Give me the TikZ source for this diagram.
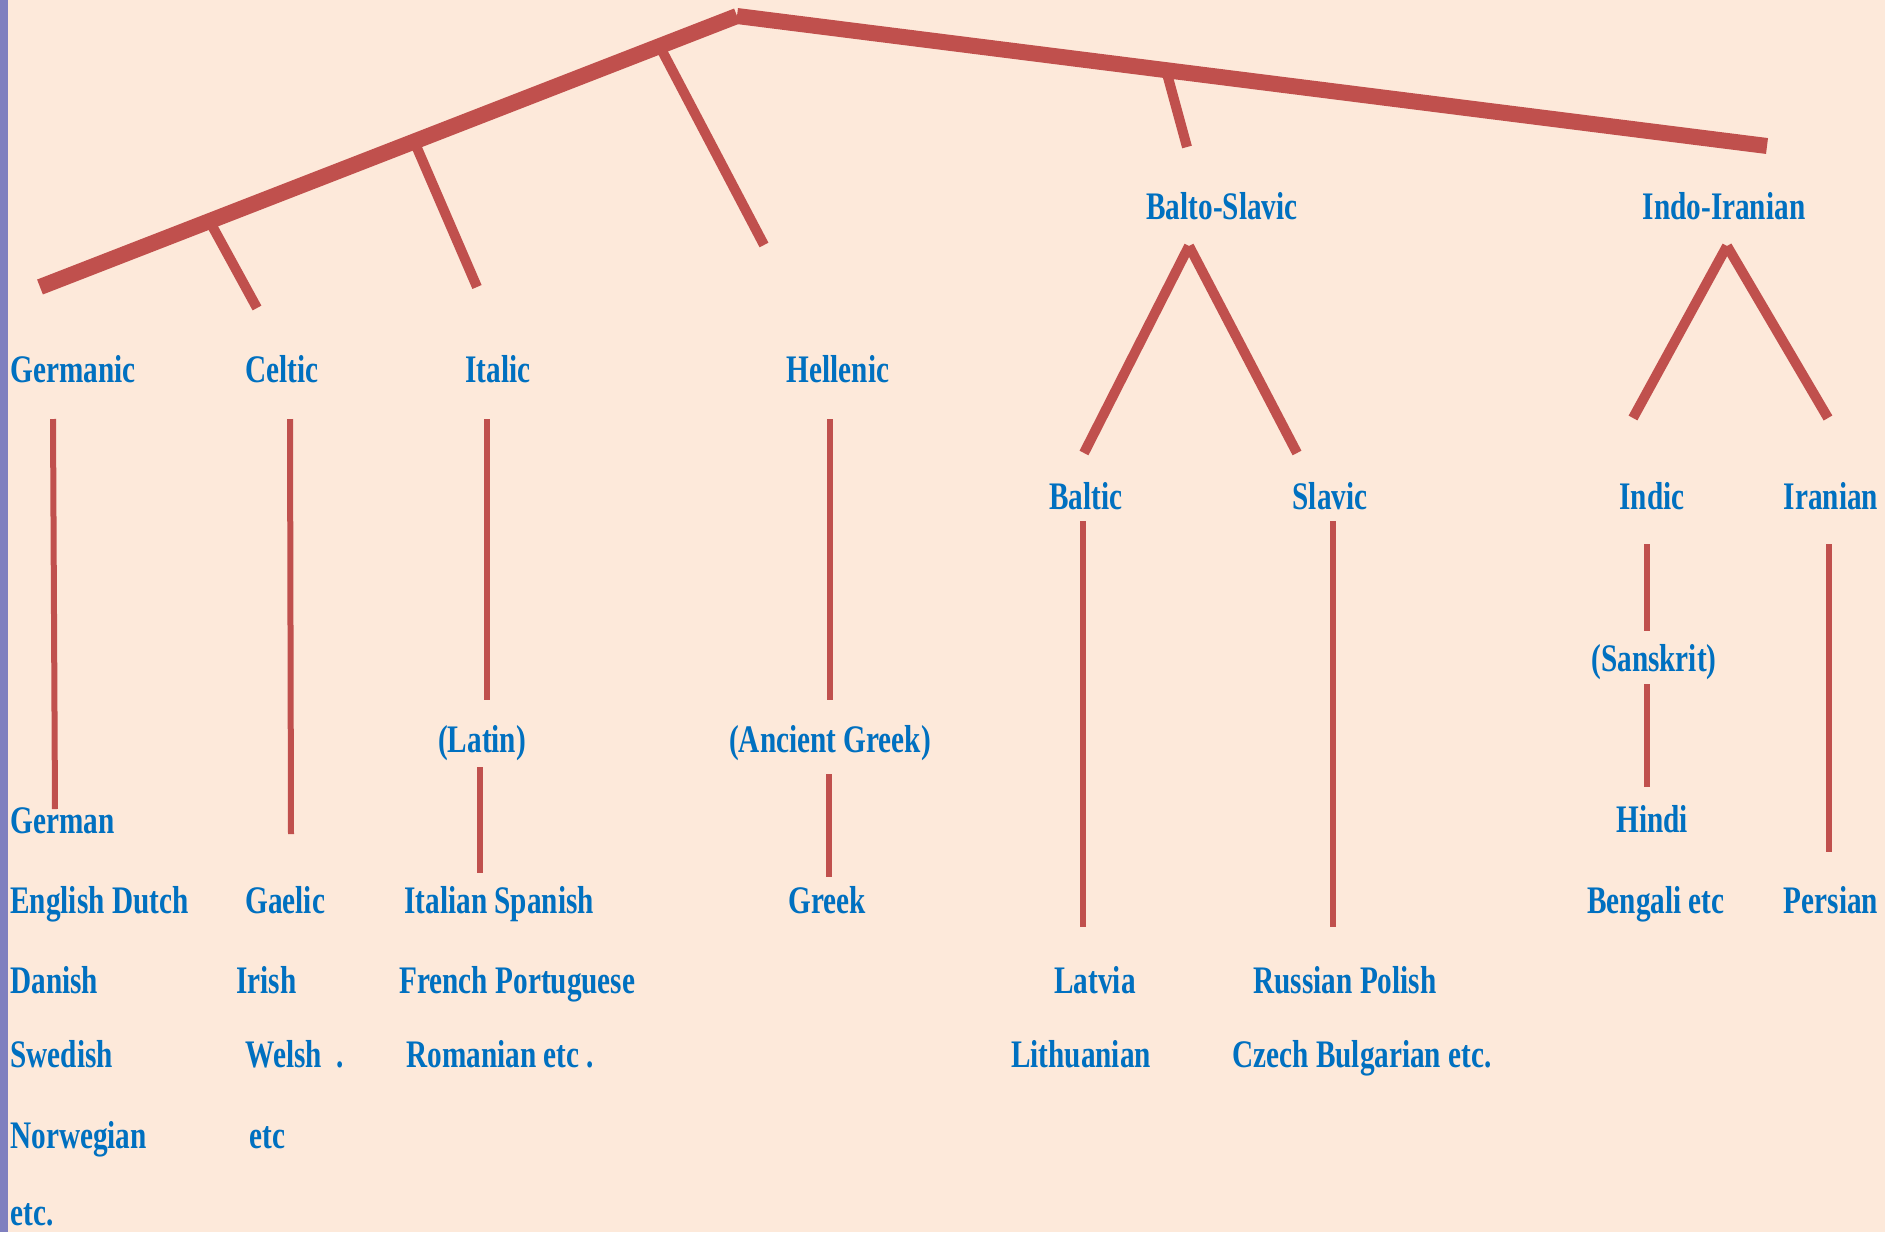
\documentclass[tikz,border=0pt]{standalone}
\usepackage{fontspec}
\newfontfamily\treefont{Liberation Serif}[FakeStretch=0.75]
\usepackage{tikz}
\definecolor{branchred}{HTML}{C0504D}
\definecolor{langblue}{HTML}{0070C0}
\definecolor{paper}{HTML}{FDE9DA}
\definecolor{edgebar}{HTML}{7F7FBF}

\begin{document}
\begin{tikzpicture}[x=0.5pt, y=-0.5pt,
  trunk/.style={draw=branchred, line width=8pt},
  limb/.style={draw=branchred, line width=5pt},
  twig/.style={draw=branchred, line width=3pt},
  lang/.style={text=langblue, inner sep=0pt, anchor=base,
    font=\treefont\bfseries\fontsize{19.5}{23}\selectfont},
  langL/.style={lang, anchor=base west}]
% Page
\fill[paper] (0,0) rectangle (1885,1232);
\fill[edgebar] (0,0) rectangle (8,1232);
\useasboundingbox (0,0) rectangle (1885,1232);

% Spine
\coordinate (root) at (737,16);
\coordinate (west) at (40,287);
\coordinate (east) at (1767,146);
\draw[trunk] (root) -- (west);
\draw[trunk] (root) -- (east);

% Branches off the spine
\coordinate (celt-a) at (210,222);  \coordinate (celt-b) at (257,308);
\coordinate (ital-a) at (414,141);  \coordinate (ital-b) at (477,287);
\coordinate (hell-a) at (659,45);   \coordinate (hell-b) at (764,245);
\coordinate (bs-a) at (1166,70);    \coordinate (bs-b) at (1187,147);
\draw[limb] (celt-a) -- (celt-b);
\draw[limb] (ital-a) -- (ital-b);
\draw[limb] (hell-a) -- (hell-b);
\draw[limb] (bs-a) -- (bs-b);

% Groups
\node[lang] (baltoslavic) at (1222,219) {Balto-Slavic};
\node[lang] (indoiranian) at (1724,219) {Indo-Iranian};
\coordinate (bs-top) at (1189,246);
\coordinate (ii-top) at (1727,246);
\coordinate (baltic-v) at (1084,453);  \coordinate (slavic-v) at (1297,453);
\coordinate (indic-v) at (1633,418);   \coordinate (iranian-v) at (1828,418);
\draw[limb] (bs-top) -- (baltic-v);
\draw[limb] (bs-top) -- (slavic-v);
\draw[limb] (ii-top) -- (indic-v);
\draw[limb] (ii-top) -- (iranian-v);

% Families
\node[langL] (germanic) at (10,382) {Germanic};
\node[lang] (celtic) at (282,382) {Celtic};
\node[lang] (italic) at (498,382) {Italic};
\node[lang] (hellenic) at (838,382) {Hellenic};
\node[lang] (baltic) at (1086,509) {Baltic};
\node[lang] (slavic) at (1330,509) {Slavic};
\node[lang] (indic) at (1652,509) {Indic};
\node[lang] (iranian) at (1831,509) {Iranian};

% Old languages
\node[lang] (latin) at (482,752) {(Latin)};
\node[lang] (ancgreek) at (830,752) {(Ancient Greek)};
\node[lang] (sanskrit) at (1654,671) {(Sanskrit)};

% Germanic column
\node[langL] (german) at (10,833) {German};
\node[langL] (engdutch) at (10,913) {English Dutch};
\node[langL] (danish) at (10,993) {Danish};
\node[langL] (swedish) at (10,1067) {Swedish};
\node[langL] (norwegian) at (10,1148) {Norwegian};
\node[langL] (germ-etc) at (10,1225) {etc.};

% Celtic column
\node[langL] (gaelic) at (245,913) {Gaelic};
\node[langL] (irish) at (236,993) {Irish};
\node[langL] (welsh) at (245,1067) {Welsh\ \ .};
\node[langL] (celt-etc) at (249,1148) {etc};

% Romance column
\node[langL] (itspan) at (404,913) {Italian Spanish};
\node[langL] (frport) at (399,993) {French Portuguese};
\node[langL] (roman) at (406,1067) {Romanian etc .};

% Greek, Balto-Slavic, Indo-Iranian
\node[lang] (greek) at (827,913) {Greek};
\node[lang] (latvia) at (1095,993) {Latvia};
\node[lang] (lithuanian) at (1081,1067) {Lithuanian};
\node[lang] (ruspol) at (1345,993) {Russian Polish};
\node[lang] (czbulg) at (1362,1067) {Czech Bulgarian etc.};
\node[lang] (hindi) at (1652,832) {Hindi};
\node[lang] (bengali) at (1656,913) {Bengali etc};
\node[lang] (persian) at (1831,913) {Persian};

% Descent lines
\coordinate (ger-a) at (53,419);    \coordinate (ger-b) at (55,809);
\coordinate (cel-a) at (290,419);   \coordinate (cel-b) at (291,834);
\coordinate (ita-a) at (487,419);   \coordinate (ita-b) at (487,700);
\coordinate (lat-a) at (480,767);   \coordinate (lat-b) at (480,873);
\coordinate (hel-a) at (830,419);   \coordinate (hel-b) at (830,700);
\coordinate (grk-a) at (829,774);   \coordinate (grk-b) at (829,877);
\coordinate (blt-a) at (1083,521);  \coordinate (blt-b) at (1083,927);
\coordinate (slv-a) at (1333,521);  \coordinate (slv-b) at (1333,927);
\coordinate (ind-a) at (1647,544);  \coordinate (ind-b) at (1647,631);
\coordinate (skt-a) at (1647,684);  \coordinate (skt-b) at (1647,787);
\coordinate (irn-a) at (1829,544);  \coordinate (irn-b) at (1829,852);
\foreach \p in {ger,cel,ita,lat,hel,grk,blt,slv,ind,skt,irn}
  \draw[twig] (\p-a) -- (\p-b);
\end{tikzpicture}
\end{document}
